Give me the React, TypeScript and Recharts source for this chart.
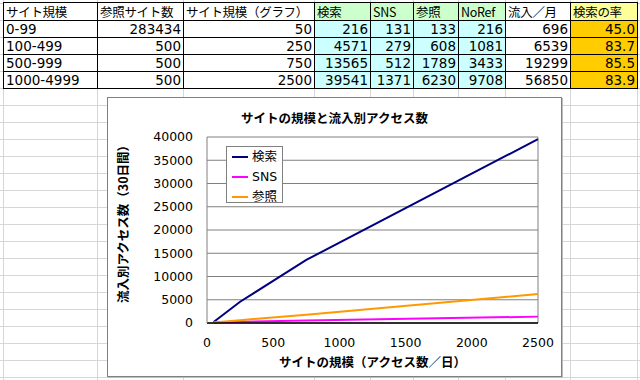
import React from "react";
import { CartesianGrid, Legend, Line, LineChart, ReferenceLine, XAxis, YAxis } from "recharts";

const headers = ["サイト規模", "参照サイト数", "サイト規模（グラフ）", "検索", "SNS", "参照", "NoRef", "流入／月", "検索の率"];
const siteRanges = ["0-99", "100-499", "500-999", "1000-4999"];
const refSiteCounts = [283434, 500, 500, 500];
const graphSizes = [50, 250, 750, 2500];
const searchCounts = [216, 4571, 13565, 39541];
const snsCounts = [131, 279, 512, 1371];
const refCounts = [133, 608, 1789, 6230];
const noRefCounts = [216, 1081, 3433, 9708];
const monthlyTotals = [696, 6539, 19299, 56850];
const searchRates = ["45.0", "83.7", "85.5", "83.9"];

const xTicks = [0, 500, 1000, 1500, 2000, 2500];
const yTicks = [0, 5000, 10000, 15000, 20000, 25000, 30000, 35000, 40000];

const seriesDefs = [
    { key: "search", name: "検索", color: "#000080" },
    { key: "sns", name: "SNS", color: "#ff00ff" },
    { key: "ref", name: "参照", color: "#ff9900" },
];

const chartData = graphSizes.map((size, i) => ({
    size,
    search: searchCounts[i],
    sns: snsCounts[i],
    ref: refCounts[i],
}));

const colX = [3, 97, 183, 314, 370, 413, 458, 505, 570, 637];
const rowY = [2, 20, 37, 54, 71, 88];
const font = '"DejaVu Sans", "Noto Sans CJK JP", sans-serif';
const jpFont = '"Noto Sans CJK JP", "DejaVu Sans", sans-serif';

function cellBg(row: number, col: number) {
    if (col >= 3 && col <= 6) return row === 0 ? "#ccffcc" : "#ccffff";
    if (col === 8) return row === 0 ? "#ffff99" : "#ffcc00";
    return "#ffffff";
}

function cellText(row: number, col: number): string {
    if (row === 0) return headers[col];
    const i = row - 1;
    const cols = [siteRanges, refSiteCounts, graphSizes, searchCounts, snsCounts, refCounts, noRefCounts, monthlyTotals, searchRates];
    return String(cols[col][i]);
}

function SheetGrid() {
    const lines = [];
    for (let y = 3; y < 380; y += 17) {
        lines.push(<div key={"h" + y} style={{ position: "absolute", left: 0, top: y, width: 640, height: 1, background: "#d6d6d6" }} />);
    }
    colX.forEach((x) => {
        lines.push(<div key={"v" + x} style={{ position: "absolute", left: x, top: 0, width: 1, height: 380, background: "#d6d6d6" }} />);
    });
    return <>{lines}</>;
}

function DataTable() {
    const cells = [];
    for (let r = 0; r < rowY.length - 1; r++) {
        for (let c = 0; c < colX.length - 1; c++) {
            const left = r === 0 || c === 0;
            cells.push(
                <div
                    key={r + "-" + c}
                    style={{
                        position: "absolute",
                        left: colX[c],
                        top: rowY[r],
                        width: colX[c + 1] - colX[c] + 1,
                        height: rowY[r + 1] - rowY[r] + 1,
                        boxSizing: "border-box",
                        border: "1px solid #000",
                        background: cellBg(r, c),
                        textAlign: left ? "left" : "right",
                        padding: "0 2px",
                        fontFamily: r === 0 ? jpFont : font,
                        fontSize: r === 0 ? 12.5 : 13.5,
                        letterSpacing: r === 0 ? -0.3 : 0,
                        lineHeight: rowY[r + 1] - rowY[r] - 1 + "px",
                        whiteSpace: "nowrap",
                        overflow: "hidden",
                    }}
                >
                    {cellText(r, c)}
                </div>
            );
        }
    }
    return <>{cells}</>;
}

function LegendBox(props: any) {
    const payload = [...(props.payload || [])].sort(
        (a: any, b: any) =>
            seriesDefs.findIndex((s) => s.name === a.value) - seriesDefs.findIndex((s) => s.name === b.value)
    );
    return (
        <div
            style={{
                width: 57,
                height: 57,
                boxSizing: "border-box",
                border: "1px solid #808080",
                background: "#fff",
                padding: 0,
            }}
        >
            {payload.map((p: any) => (
                <div key={p.value} style={{ display: "flex", alignItems: "center", height: 20 }}>
                    <div style={{ width: 16, height: 2, background: p.color, marginLeft: 5, marginRight: 4 }} />
                    <span style={{ fontFamily: font, fontSize: 12.5, color: "#000", lineHeight: "20px" }}>{p.value}</span>
                </div>
            ))}
        </div>
    );
}

export default function App() {
    const labelStyle = { fontFamily: jpFont, fontSize: 12.5, fontWeight: 700, color: "#000", whiteSpace: "nowrap" as const };
    return (
        <div style={{ position: "absolute", left: 0, top: 0, width: 640, height: 380, background: "#fff", overflow: "hidden" }}>
            <SheetGrid />
            <DataTable />
            <div
                style={{
                    position: "absolute",
                    left: 107,
                    top: 97,
                    width: 455,
                    height: 280,
                    boxSizing: "border-box",
                    border: "1px solid #808080",
                    boxShadow: "1px 1px 0 #bdbdbd",
                    background: "#fff",
                }}
            />
            <div style={{ position: "absolute", left: 107, top: 97 }}>
                <LineChart width={455} height={280} data={chartData} margin={{ top: 40, right: 24, left: 40, bottom: 24 }}>
                    <CartesianGrid vertical={false} stroke="#808080" horizontalValues={yTicks} />
                    <XAxis
                        dataKey="size"
                        type="number"
                        domain={[0, 2500]}
                        ticks={xTicks}
                        height={30}
                        axisLine={{ stroke: "#000", strokeWidth: 1.5 }}
                        tickLine={false}
                        tickSize={0}
                        tickMargin={15}
                        tick={{ fill: "#000", fontSize: 12.5, fontFamily: font }}
                    />
                    <YAxis
                        type="number"
                        domain={[0, 40000]}
                        ticks={yTicks}
                        width={60}
                        axisLine={{ stroke: "#808080" }}
                        tickLine={false}
                        tickSize={0}
                        tickMargin={14}
                        interval={0}
                        tick={{ fill: "#000", fontSize: 12.5, fontFamily: font }}
                    />
                    <ReferenceLine x={2500} stroke="#808080" />
                    <Legend
                        content={<LegendBox />}
                        layout="horizontal"
                        verticalAlign="middle"
                        align="center"
                        wrapperStyle={{ left: 119, top: 49, width: 57, height: 57 }}
                    />
                    {seriesDefs.map((s) => (
                        <Line
                            key={s.key}
                            dataKey={s.key}
                            name={s.name}
                            type="linear"
                            stroke={s.color}
                            strokeWidth={2}
                            dot={false}
                            isAnimationActive={false}
                        />
                    ))}
                </LineChart>
            </div>
            <div style={{ ...labelStyle, position: "absolute", left: 107, width: 455, top: 110, lineHeight: "16px", textAlign: "center" }}>
                サイトの規模と流入別アクセス数
            </div>
            <div style={{ ...labelStyle, position: "absolute", left: 207, width: 331, top: 354, lineHeight: "16px", textAlign: "center" }}>
                サイトの規模（アクセス数／日）
            </div>
            <div
                style={{
                    ...labelStyle,
                    position: "absolute",
                    left: 123,
                    top: 221,
                    lineHeight: "16px",
                    transform: "translate(-50%, -50%) rotate(-90deg)",
                }}
            >
                流入別アクセス数（30日間）
            </div>
        </div>
    );
}
